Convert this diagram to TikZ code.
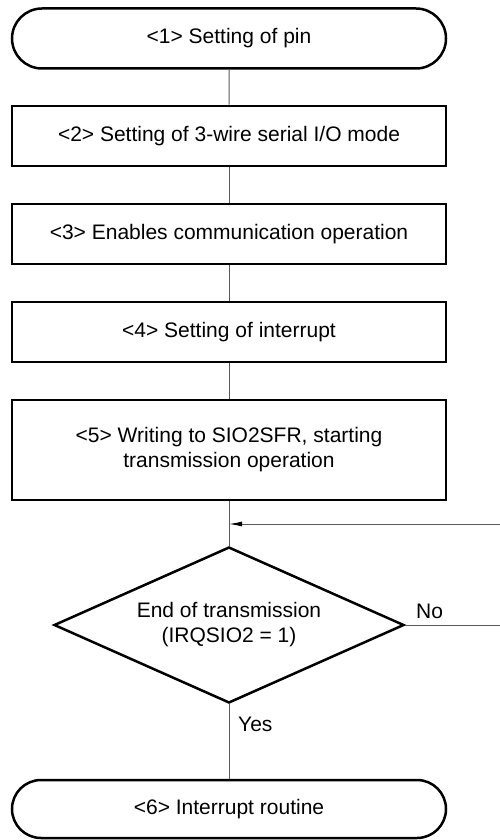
\documentclass[tikz,border=0pt]{standalone}
\usepackage{fontspec}
\setmainfont{Liberation Sans}
\usetikzlibrary{shapes.misc,shapes.geometric,arrows.meta}
\begin{document}
\begin{tikzpicture}[x=1pt,y=-1pt,
  every node/.style={font=\fontsize{21}{25}\selectfont},
  term/.style={draw,line width=2.5pt,rounded rectangle,minimum width=434pt,minimum height=60pt,inner sep=0pt},
  procbox/.style={draw,line width=2.5pt,rectangle,minimum width=434pt,inner sep=0pt,align=center},
  decis/.style={draw,line width=2.5pt,diamond,aspect=2.24,minimum width=350pt,minimum height=156pt,inner sep=0pt,align=center},
  conn/.style={line width=1pt,draw=black!65},
  lbl/.style={inner sep=0pt}]
\useasboundingbox (0,0) rectangle (500,840);
\node[term] (n1) at (229,38.5) {<1> Setting of pin};
\node[procbox,minimum height=60pt] (n2) at (229,136) {<2> Setting of 3-wire serial I/O mode};
\node[procbox,minimum height=60pt] (n3) at (229,234) {<3> Enables communication operation};
\node[procbox,minimum height=60pt] (n4) at (229,332) {<4> Setting of interrupt};
\node[procbox,minimum height=100pt] (n5) at (229,450) {<5> Writing to SIO2SFR, starting\\transmission operation};
\node[decis] (d) at (229,625) {End of transmission\\(IRQSIO2 = 1)};
\node[term,minimum height=58pt] (n6) at (229,809) {<6> Interrupt routine};
\coordinate (m) at (229,524);
\coordinate (r1) at (500,524);
\coordinate (r2) at (500,625);
\draw[conn] (n1) -- (n2);
\draw[conn] (n2) -- (n3);
\draw[conn] (n3) -- (n4);
\draw[conn] (n4) -- (n5);
\draw[conn] (n5) -- (d);
\draw[conn] (d) -- (n6);
\draw[conn] (d.east) -- (r2);
\draw[conn,-{Latex[length=13pt,width=5pt,color=black]}] (r1) -- (m);
\node[lbl,anchor=south west] (no) at (416,619) {No};
\node[lbl,anchor=west] (yes) at (238,724) {Yes};
\end{tikzpicture}
\end{document}
